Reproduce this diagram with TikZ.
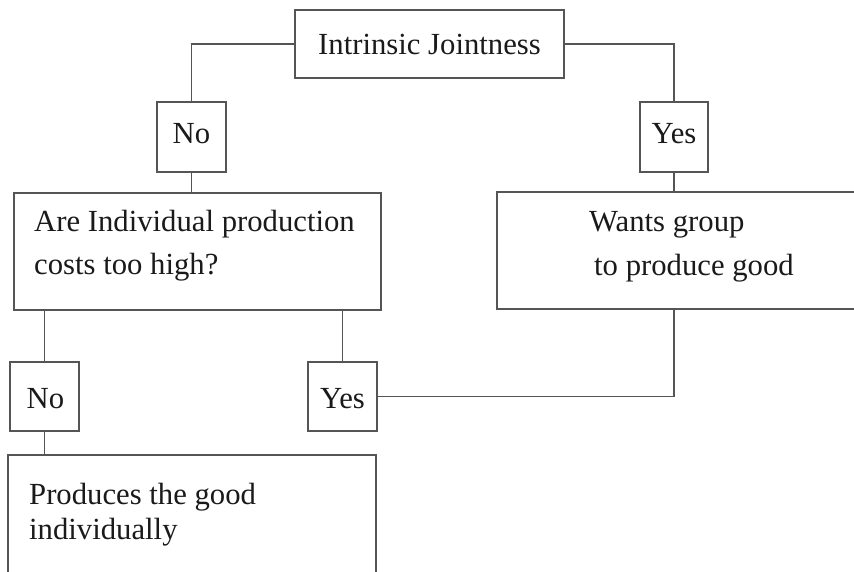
\documentclass[tikz,border=0pt]{standalone}
\usepackage{fontspec}
\setmainfont{Liberation Serif}
\newfontfamily\tnr{Liberation Serif}
\definecolor{linec}{HTML}{555555}
\definecolor{txtc}{HTML}{1A1A1A}
\begin{document}
\begin{tikzpicture}[x=1pt,y=-1pt,
  bx/.style={draw=linec, line width=1.4pt, rectangle, inner sep=0pt},
  conn/.style={draw=linec, line width=1.4pt},
  lbl/.style={text=txtc, font=\tnr\fontsize{30.7}{36}\selectfont, inner sep=0pt, anchor=base},
  lbll/.style={lbl, anchor=base west}]
\useasboundingbox (0,0) rectangle (854,572);
\fill[white] (0,0) rectangle (854,572);
\clip (0,0) rectangle (854,572);
% boxes
\node[bx, minimum width=269pt, minimum height=68pt] (T) at (429.5,44) {};
\node[bx, minimum width=69pt, minimum height=70pt] (No1) at (191.5,137) {};
\node[bx, minimum width=68pt, minimum height=70pt] (Yes1) at (674,137) {};
\node[bx, minimum width=367pt, minimum height=117pt] (L) at (197.5,251.5) {};
\node[bx, minimum width=403pt, minimum height=117pt] (R) at (698.5,250.5) {};
\node[bx, minimum width=69pt, minimum height=69pt] (No2) at (44.5,396.5) {};
\node[bx, minimum width=69pt, minimum height=69pt] (Yes2) at (342.5,396.5) {};
\node[bx, minimum width=368pt, minimum height=165pt] (B) at (192,537.5) {};
% texts
\node[lbl] (tT) at (429.5,55) {Intrinsic Jointness};
\node[lbl] (tNo1) at (191.5,144) {No};
\node[lbl] (tYes1) at (674,144) {Yes};
\node[lbll] (tL1) at (34,232) {Are Individual production};
\node[lbll] (tL2) at (34,274) {costs too high?};
\node[lbll] (tR1) at (589,232) {Wants group};
\node[lbll] (tR2) at (594,275) {to produce good};
\node[lbl] (tNo2) at (45.5,408) {No};
\node[lbl] (tYes2) at (342.5,408) {Yes};
\node[lbll] (tB1) at (29,504) {Produces the good};
\node[lbll] (tB2) at (29,539) {individually};
% connectors
\draw[conn] (T.west) -| (No1.north);
\draw[conn] (T.east) -| (Yes1.north);
\draw[conn] (No1.south) -- (No1.south |- L.north);
\draw[conn] (Yes1.south) -- (Yes1.south |- R.north);
\draw[conn] (No2.north) -- (No2.north |- L.south);
\draw[conn] (Yes2.north) -- (Yes2.north |- L.south);
\draw[conn] (No2.south) -- (No2.south |- B.north);
\draw[conn] (Yes2.east) -| (Yes1.south |- R.south);
\end{tikzpicture}
\end{document}
